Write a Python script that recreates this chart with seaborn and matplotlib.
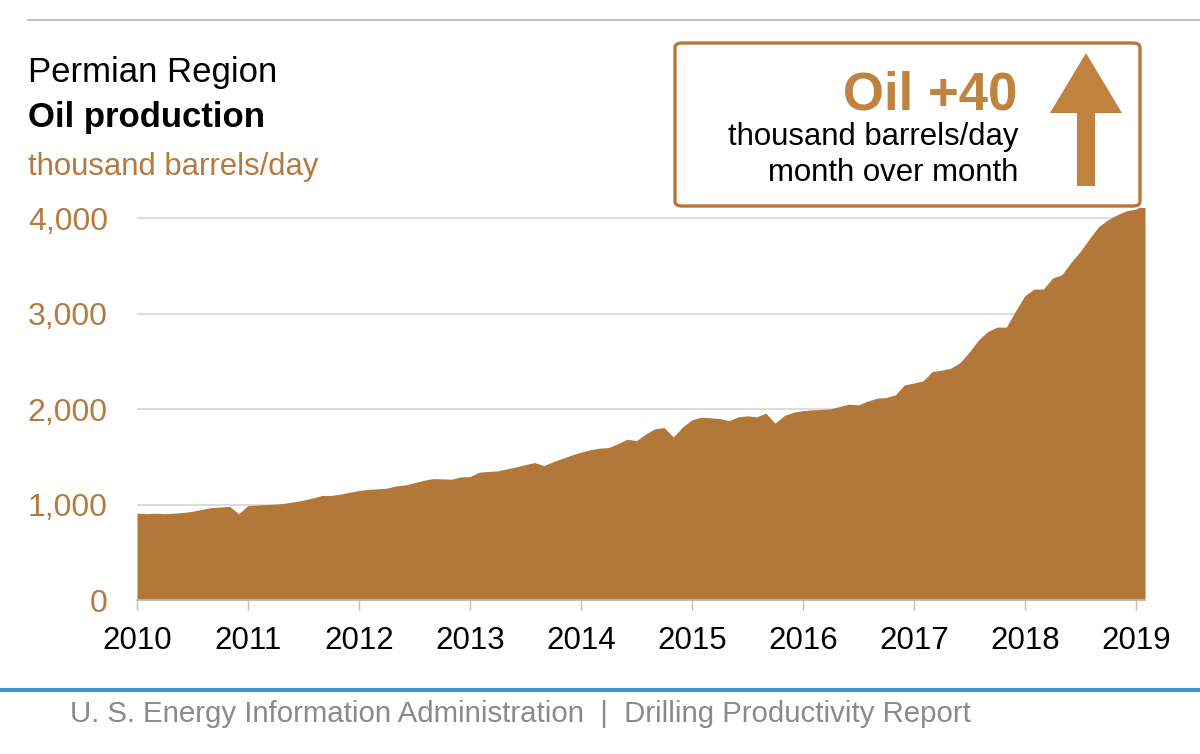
import numpy as np
import pandas as pd
import matplotlib
matplotlib.use("Agg")
import matplotlib.pyplot as plt
import seaborn as sns
from matplotlib.patches import FancyBboxPatch, Polygon
from matplotlib.lines import Line2D

# ==========================================
# data: Permian oil production, thousand barrels/day, Jan 2010 - Feb 2019
# ==========================================
start_year = 2010
oil_kbd = [
    910, 905, 910, 905, 910, 918, 930, 950, 968, 975, 982, 905,          # 2010
    990, 995, 1000, 1005, 1015, 1030, 1047, 1070, 1096, 1096, 1110, 1130,  # 2011
    1147, 1160, 1165, 1172, 1196, 1207, 1230, 1255, 1273, 1270, 1266, 1291,  # 2012
    1294, 1340, 1348, 1354, 1375, 1395, 1420, 1441, 1409, 1450, 1485, 1520,  # 2013
    1550, 1575, 1592, 1598, 1640, 1686, 1671, 1740, 1795, 1808, 1710, 1815,  # 2014
    1889, 1917, 1910, 1903, 1880, 1920, 1931, 1920, 1959, 1854, 1935, 1969,  # 2015
    1985, 1994, 1998, 2004, 2030, 2053, 2046, 2085, 2116, 2123, 2151, 2256,  # 2016
    2275, 2298, 2396, 2410, 2430, 2490, 2600, 2728, 2816, 2861, 2861, 3030,  # 2017
    3190, 3260, 3260, 3375, 3410, 3540, 3655, 3790, 3917, 3987, 4040, 4080,  # 2018
    4100, 4140,                                                            # 2019
]
year_ticks = list(range(2010, 2020))
y_ticks = [0, 1000, 2000, 3000, 4000]
y_tick_labels = ["0", "1,000", "2,000", "3,000", "4,000"]

df = pd.DataFrame({"month_idx": np.arange(len(oil_kbd)), "oil": oil_kbd})
df["year"] = start_year + df["month_idx"] / 12.0

BROWN = "#b2783a"
BROWN_TXT = "#b47a3e"
ARROW = "#c0823f"
W, H = 1200, 754

sns.set_theme(style="white")
plt.rcParams["font.family"] = ["Liberation Sans", "DejaVu Sans"]

fig = plt.figure(figsize=(12, 7.54), dpi=100)


def px(x, y):
    return (x / W, 1 - y / H)


ax = fig.add_axes([137 / W, 154 / H, 1008 / W, 392 / H])
sns.lineplot(data=df, x="year", y="oil", color=BROWN, linewidth=0, ax=ax)
ax.fill_between(df["year"], 0, df["oil"], color=BROWN, linewidth=0, zorder=2)

ax.set_xlim(start_year, df["year"].iloc[-1])
ax.set_ylim(0, 4110)
ax.set_xticks(year_ticks)
ax.set_xticklabels([str(y) for y in year_ticks], fontsize=22.5, color="black")
ax.set_yticks(y_ticks)
ax.set_yticklabels(y_tick_labels, fontsize=23, color=BROWN_TXT)
ax.set_xlabel("")
ax.set_ylabel("")
ax.grid(axis="y", color="#d6d6d6", linewidth=1.2, zorder=0)
ax.set_axisbelow(True)
for s in ["top", "right", "left"]:
    ax.spines[s].set_visible(False)
ax.spines["bottom"].set_color("#bdbdbd")
ax.spines["bottom"].set_linewidth(1.2)
ax.tick_params(axis="x", bottom=True, length=7, width=1, color="#bdbdbd",
               direction="out", pad=12)
ax.tick_params(axis="y", left=False, length=0, pad=21)

# titles
fig.text(*px(28, 82), "Permian Region", fontsize=25, color="black", va="baseline")
fig.text(*px(28, 127), "Oil production", fontsize=25, fontweight="bold",
         color="black", va="baseline")
fig.text(*px(28, 175), "thousand barrels/day", fontsize=22.4, color=BROWN_TXT,
         va="baseline")

# top rule and bottom blue rule
fig.add_artist(Line2D([28 / W, 1.0], [1 - 20 / H] * 2, color="#c4c4c4", lw=1.5))
fig.add_artist(Line2D([0, 1.0], [1 - 690 / H] * 2, color="#3f94d4", lw=3))

# callout box
x0, y0 = px(675, 206)
box = FancyBboxPatch((x0, y0), (1140 - 675) / W, (206 - 43) / H,
                     boxstyle="round,pad=0,rounding_size=0.006",
                     transform=fig.transFigure, facecolor="white",
                     edgecolor="#b5783c", linewidth=2.4, zorder=5)
fig.add_artist(box)
fig.text(*px(1017, 110), "Oil +40", fontsize=38, fontweight="bold",
         color=ARROW, ha="right", va="baseline", zorder=6)
fig.text(*px(1018, 145), "thousand barrels/day", fontsize=22.4,
         color="black", ha="right", va="baseline", zorder=6)
fig.text(*px(1018, 181), "month over month", fontsize=22.4,
         color="black", ha="right", va="baseline", zorder=6)
arrow_pts = [px(1086, 53), px(1122, 113), px(1095, 113), px(1095, 186),
             px(1077, 186), px(1077, 113), px(1050, 113)]
fig.add_artist(Polygon(arrow_pts, closed=True, transform=fig.transFigure,
                       facecolor=ARROW, edgecolor="none", zorder=6))

# footer
fig.text(*px(70, 722), "U. S. Energy Information Administration  |  Drilling Productivity Report",
         fontsize=21.2, color="#8a8a8a", va="baseline")

fig.savefig("out.png", dpi=100, facecolor="white")
plt.close(fig)
